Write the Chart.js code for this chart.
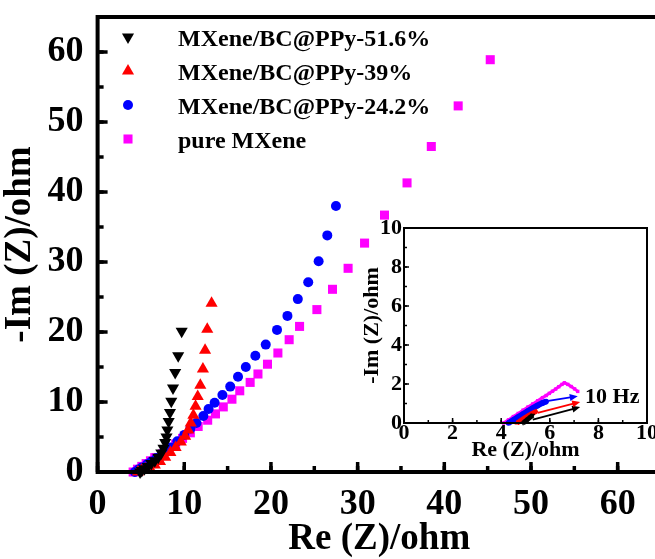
<!DOCTYPE html>
<html>
<head>
<meta charset="utf-8">
<script src="https://cdn.jsdelivr.net/npm/chart.js@4.4.1/dist/chart.umd.min.js"></script>
<style>
    html, body { margin: 0; padding: 0; background: #fff; overflow: hidden; }
    #wrap { position: relative; width: 655px; height: 559px; overflow: hidden; background: #fff; }
    #main { position: absolute; left: 0; top: 0; }
    #inset { position: absolute; left: 345px; top: 200px; }
</style>
</head>
<body>
<div id="wrap">
    <canvas id="main" width="680" height="559"></canvas>
    <canvas id="inset" width="330" height="270"></canvas>
</div>
<script>
// Nyquist plots - MXene/BC@PPy films, high-frequency part in the inset

const seriesNames = ['MXene/BC@PPy-51.6%', 'MXene/BC@PPy-39%', 'MXene/BC@PPy-24.2%', 'pure MXene'];
const seriesColors = ['#000000', '#ff0000', '#0000ff', '#ff00ff'];
const seriesShapes = ['triangle', 'triangle', 'circle', 'rect'];
const seriesRotations = [180, 0, 0, 0];

const mainXTicks = [0, 10, 20, 30, 40, 50, 60];
const mainYTicks = [0, 10, 20, 30, 40, 50, 60];
const insetTicks = [0, 2, 4, 6, 8, 10];

// main plot, [Re, -Im] in ohm
const ppy516 = [[9.7, 20.1], [9.3, 16.6], [8.95, 14.2], [8.7, 12.0], [8.5, 10.1], [8.35, 8.5], [8.2, 7.2],
    [8.05, 6.0], [7.95, 5.0], [7.8, 4.2], [7.6, 3.4], [7.35, 2.7], [7.0, 2.1], [6.6, 1.6], [6.2, 1.2],
    [5.8, 0.8], [5.4, 0.45], [5.1, 0.2], [4.9, 0]];
const ppy39 = [[13.15, 24.1], [12.65, 20.4], [12.4, 17.4], [12.15, 14.7], [11.85, 12.4], [11.55, 10.8],
    [11.3, 9.4], [11.05, 8.1], [10.75, 7.0], [10.45, 6.0], [10.1, 5.1], [9.6, 4.3], [9.0, 3.5], [8.4, 2.8],
    [7.8, 2.1], [7.2, 1.5], [6.6, 1.0], [6.0, 0.65], [5.5, 0.45], [5.05, 0.25], [4.65, 0]];
const ppy242 = [[27.5, 38.0], [26.5, 33.8], [25.5, 30.1], [24.3, 27.1], [23.1, 24.7], [21.9, 22.3],
    [20.7, 20.3], [19.4, 18.2], [18.2, 16.6], [17.1, 15.0], [16.2, 13.6], [15.3, 12.2], [14.4, 11.0],
    [13.5, 9.9], [12.8, 9.0], [12.2, 8.0], [11.4, 7.0], [10.7, 6.2], [10.0, 5.3], [9.2, 4.4], [8.4, 3.5],
    [7.6, 2.7], [6.8, 2.0], [6.2, 1.5], [5.7, 1.1], [5.1, 0.65], [4.7, 0.35], [4.3, 0]];
const pureMXene = [[45.3, 58.9], [41.6, 52.3], [38.5, 46.5], [35.7, 41.3], [33.1, 36.7], [30.8, 32.7],
    [28.9, 29.1], [27.1, 26.1], [25.3, 23.2], [23.3, 20.8], [22.1, 18.9], [20.8, 17.0], [19.6, 15.4],
    [18.5, 14.0], [17.6, 12.8], [16.4, 11.6], [15.5, 10.4], [14.5, 9.3], [13.6, 8.3], [12.7, 7.4],
    [11.6, 6.5], [10.7, 5.6], [9.8, 4.8], [9.0, 4.0], [8.2, 3.3], [7.5, 2.6], [7.1, 1.7], [6.6, 2.05],
    [6.1, 1.6], [5.6, 1.2], [5.1, 0.8], [4.6, 0.4], [4.1, 0]];

// inset, high frequency end down to 10 Hz
const insetPpy516 = [[4.9, 0], [5.0, 0.09], [5.1, 0.2], [5.2, 0.3], [5.3, 0.4]];
const insetPpy39 = [[4.65, 0], [4.8, 0.12], [4.95, 0.25], [5.1, 0.37], [5.25, 0.48], [5.45, 0.6]];
const insetPpy242 = [[4.3, 0], [4.5, 0.15], [4.7, 0.31], [4.9, 0.46], [5.1, 0.61], [5.3, 0.76],
    [5.5, 0.9], [5.7, 1.03], [5.85, 1.1]];
const insetPure = [[4.1, 0], [4.3, 0.16], [4.5, 0.33], [4.7, 0.49], [4.9, 0.66], [5.1, 0.82], [5.3, 0.98],
    [5.5, 1.14], [5.7, 1.3], [5.85, 1.41], [5.98, 1.52], [6.11, 1.63], [6.24, 1.74], [6.37, 1.86],
    [6.5, 1.98], [6.6, 2.06], [6.74, 1.98], [6.88, 1.87], [7.02, 1.75], [7.15, 1.62]];

// arrows to the "10 Hz" note, [x0, y0, x1, y1] in inset units
const hzArrows = [[5.3, 0.17, 7.25, 0.82], [5.5, 0.52, 7.25, 1.08], [5.94, 1.13, 7.15, 1.37]];
const hzArrowColors = ['#000000', '#ff0000', '#0000ff'];

const SERIF = '"Liberation Serif", "Times New Roman", serif';

const mainSeries = [ppy516, ppy39, ppy242, pureMXene];
const insetSeries = [insetPpy516, insetPpy39, insetPpy242, insetPure];
const mainRadii = [7, 7, 5, 6.4];
const insetLineWidths = [5, 5, 6, 3];

function drawMarker(ctx, shape, rotation, x, y, r, color) {
    ctx.save();
    ctx.fillStyle = color;
    ctx.beginPath();
    if (shape === 'circle') {
        ctx.arc(x, y, r, 0, Math.PI * 2);
    } else if (shape === 'rect') {
        const s = r * Math.SQRT1_2;
        ctx.rect(x - s, y - s, 2 * s, 2 * s);
    } else {
        let rad = rotation * Math.PI / 180;
        for (let k = 0; k < 3; k++) {
            const px = x + Math.sin(rad) * r;
            const py = y - Math.cos(rad) * r;
            if (k === 0) ctx.moveTo(px, py); else ctx.lineTo(px, py);
            rad += Math.PI * 2 / 3;
        }
        ctx.closePath();
    }
    ctx.fill();
    ctx.restore();
}

// box + inward ticks
const framePlugin = {
    id: 'frame',
    beforeDatasetsDraw(chart, args, opts) {
        if (!opts.fill) return;
        const a = chart.chartArea;
        chart.ctx.save();
        chart.ctx.fillStyle = '#fff';
        chart.ctx.fillRect(a.left, a.top, a.right - a.left, a.bottom - a.top);
        chart.ctx.restore();
    },
    afterDatasetsDraw(chart, args, opts) {
        const { ctx, chartArea: a, scales: { x, y } } = chart;
        ctx.save();
        ctx.strokeStyle = '#000';
        ctx.lineWidth = opts.tickWidth;
        const marks = (scale, step, len, horizontal) => {
            for (let v = scale.min; v <= scale.max + 1e-9; v += step) {
                const p = scale.getPixelForValue(v);
                ctx.beginPath();
                if (horizontal) {
                    ctx.moveTo(p, a.bottom);
                    ctx.lineTo(p, a.bottom - len);
                } else {
                    ctx.moveTo(a.left, p);
                    ctx.lineTo(a.left + len, p);
                }
                ctx.stroke();
            }
        };
        marks(x, opts.minor, opts.minorLen, true);
        marks(y, opts.minor, opts.minorLen, false);
        marks(x, opts.major, opts.majorLen, true);
        marks(y, opts.major, opts.majorLen, false);
        ctx.lineWidth = opts.border;
        ctx.strokeRect(a.left, a.top, a.right - a.left, a.bottom - a.top);
        ctx.restore();
    }
};

const keyPlugin = {
    id: 'seriesKey',
    afterDraw(chart) {
        const ctx = chart.ctx;
        ctx.save();
        ctx.font = 'bold 24px ' + SERIF;
        ctx.textBaseline = 'middle';
        seriesNames.forEach((name, i) => {
            drawMarker(ctx, seriesShapes[i], seriesRotations[i], 128, 37 + i * 34, mainRadii[i], seriesColors[i]);
            ctx.fillStyle = '#000';
            ctx.fillText(name, 178, 40 + i * 34);
        });
        ctx.restore();
    }
};

const hzPlugin = {
    id: 'hzNote',
    afterDatasetsDraw(chart) {
        const { ctx, scales: { x, y } } = chart;
        ctx.save();
        hzArrows.forEach((arr, i) => {
            const x0 = x.getPixelForValue(arr[0]), y0 = y.getPixelForValue(arr[1]);
            const x1 = x.getPixelForValue(arr[2]), y1 = y.getPixelForValue(arr[3]);
            const ang = Math.atan2(y1 - y0, x1 - x0);
            ctx.strokeStyle = hzArrowColors[i];
            ctx.fillStyle = hzArrowColors[i];
            ctx.lineWidth = 1.8;
            ctx.beginPath();
            ctx.moveTo(x0, y0);
            ctx.lineTo(x1 - 6 * Math.cos(ang), y1 - 6 * Math.sin(ang));
            ctx.stroke();
            ctx.beginPath();
            ctx.moveTo(x1, y1);
            ctx.lineTo(x1 - 8 * Math.cos(ang) + 3.5 * Math.sin(ang), y1 - 8 * Math.sin(ang) - 3.5 * Math.cos(ang));
            ctx.lineTo(x1 - 8 * Math.cos(ang) - 3.5 * Math.sin(ang), y1 - 8 * Math.sin(ang) + 3.5 * Math.cos(ang));
            ctx.closePath();
            ctx.fill();
        });
        ctx.fillStyle = '#000';
        ctx.font = 'bold 22px ' + SERIF;
        ctx.textBaseline = 'middle';
        ctx.fillText('10 Hz', x.getPixelForValue(7.45), y.getPixelForValue(1.33));
        ctx.restore();
    }
};

function axisFont(size) {
    return { family: SERIF, size: size, weight: 'bold', lineHeight: 1 };
}

// keep the plot box where the layout puts it, no room for edge labels
function fixSize(prop, value) {
    return (s) => {
        s[prop] = value;
        s.paddingTop = 0;
        s.paddingBottom = 0;
        s.paddingLeft = 0;
        s.paddingRight = 0;
    };
}

function pointSet(data, i, radius, extra) {
    return Object.assign({
        label: seriesNames[i],
        data: data.map(([x, y]) => ({ x, y })),
        showLine: false,
        pointStyle: seriesShapes[i],
        pointRotation: seriesRotations[i],
        pointRadius: radius,
        pointBackgroundColor: seriesColors[i],
        pointBorderColor: seriesColors[i],
        pointBorderWidth: 0,
        clip: false
    }, extra || {});
}

new Chart(document.getElementById('main'), {
    type: 'scatter',
    data: {
        datasets: mainSeries.map((d, i) => pointSet(d, i, mainRadii[i]))
    },
    options: {
        responsive: false,
        animation: false,
        layout: { padding: { top: 17, right: 19, left: 0, bottom: 0 } },
        plugins: {
            legend: { display: false },
            tooltip: { enabled: false },
            frame: { border: 4, tickWidth: 3.5, major: 10, minor: 5, majorLen: 10, minorLen: 6 }
        },
        scales: {
            x: {
                type: 'linear', min: 0, max: 65,
                grid: { display: false, drawTicks: false },
                border: { display: false },
                afterFit: fixSize('height', 87),
                afterBuildTicks(s) { s.ticks = mainXTicks.map(v => ({ value: v })); },
                ticks: { font: axisFont(36), color: '#000', padding: 15, maxRotation: 0 },
                title: { display: true, text: 'Re (Z)/ohm', font: axisFont(37), color: '#000', padding: { top: 0, bottom: 1 } }
            },
            y: {
                type: 'linear', min: 0, max: 65,
                grid: { display: false, drawTicks: false },
                border: { display: false },
                afterFit: fixSize('width', 97.6),
                afterBuildTicks(s) { s.ticks = mainYTicks.map(v => ({ value: v })); },
                ticks: { font: axisFont(36), color: '#000', padding: 14 },
                title: { display: true, text: '-Im (Z)/ohm', font: axisFont(37), color: '#000', padding: { top: 2, bottom: 0 } }
            }
        }
    },
    plugins: [framePlugin, keyPlugin]
});

new Chart(document.getElementById('inset'), {
    type: 'scatter',
    data: {
        datasets: insetSeries.map((d, i) => pointSet(d, i, i === 3 ? 2.4 : 2.8, {
            showLine: true,
            borderColor: seriesColors[i],
            borderWidth: insetLineWidths[i]
        }))
    },
    options: {
        responsive: false,
        animation: false,
        layout: { padding: { top: 28, right: 28, left: 0, bottom: 0 } },
        plugins: {
            legend: { display: false },
            tooltip: { enabled: false },
            frame: { fill: true, border: 2, tickWidth: 1.5, major: 2, minor: 1, majorLen: 5, minorLen: 3 }
        },
        scales: {
            x: {
                type: 'linear', min: 0, max: 10,
                grid: { display: false, drawTicks: false },
                border: { display: false },
                afterFit: fixSize('height', 47),
                afterBuildTicks(s) { s.ticks = insetTicks.map(v => ({ value: v })); },
                ticks: { font: axisFont(22), color: '#000', padding: -1, maxRotation: 0 },
                title: { display: true, text: 'Re (Z)/ohm', font: axisFont(22), color: '#000', padding: { top: 0, bottom: 8.5 } }
            },
            y: {
                type: 'linear', min: 0, max: 10,
                grid: { display: false, drawTicks: false },
                border: { display: false },
                afterFit: fixSize('width', 59),
                afterBuildTicks(s) { s.ticks = insetTicks.map(v => ({ value: v })); },
                ticks: { font: axisFont(22), color: '#000', padding: 2 },
                title: { display: true, text: '-Im (Z)/ohm', font: axisFont(22), color: '#000', padding: { top: 16, bottom: 0 } }
            }
        }
    },
    plugins: [framePlugin, hzPlugin]
});
</script>
</body>
</html>
